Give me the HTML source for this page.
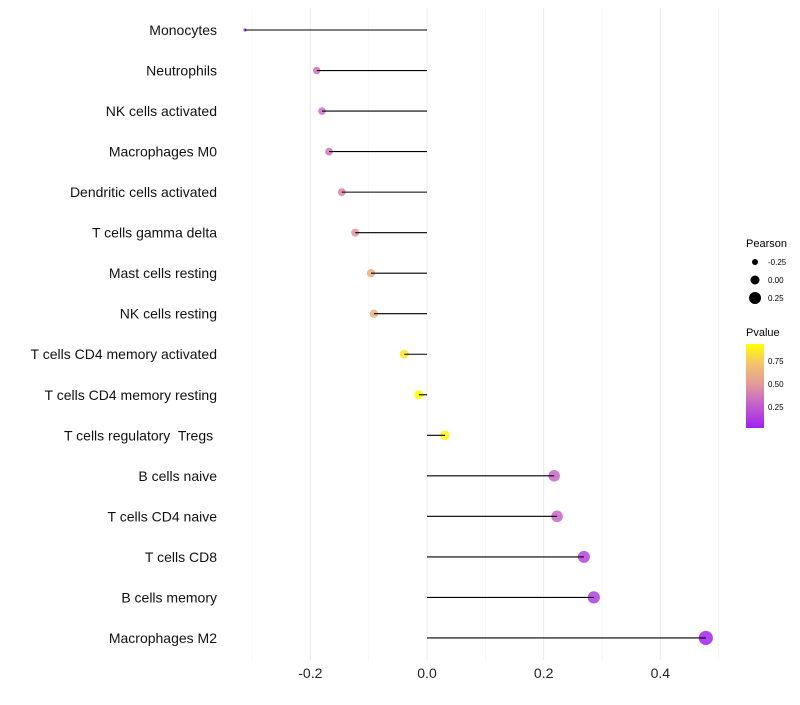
<!DOCTYPE html>
<html><head><meta charset="utf-8"><style>
body{margin:0;background:#fff;font-family:"Liberation Sans",sans-serif}
text{white-space:pre}
</style></head><body>
<svg id="chart" width="800" height="700" xmlns="http://www.w3.org/2000/svg">
<defs><linearGradient id="pg" x1="0" y1="1" x2="0" y2="0">
<stop offset="0" stop-color="#a020f0"/><stop offset="0.3" stop-color="#c866c8"/><stop offset="0.52" stop-color="#e39a9a"/><stop offset="0.75" stop-color="#f2c070"/><stop offset="1" stop-color="#ffff00"/></linearGradient></defs>
<g id="grid"></g><g id="marks"></g><g id="labels"></g>
<g font-size="10" fill="#000">
<text x="746" y="247" font-size="11">Pearson</text>
<circle cx="755" cy="262" r="3" fill="#000"/><text x="768" y="265" font-size="8">-0.25</text>
<circle cx="755" cy="280" r="4.5" fill="#000"/><text x="768" y="283" font-size="8">0.00</text>
<circle cx="755" cy="298" r="6" fill="#000"/><text x="768" y="301" font-size="8">0.25</text>
<text x="746" y="336" font-size="11">Pvalue</text>
<rect x="746" y="344" width="18" height="84" fill="url(#pg)"/>
<text x="768" y="364" font-size="8">0.75</text>
<text x="768" y="387" font-size="8">0.50</text>
<text x="768" y="410" font-size="8">0.25</text>
</g>
</svg>
<script>
const cells=["Monocytes","Neutrophils","NK cells activated","Macrophages M0","Dendritic cells activated","T cells gamma delta","Mast cells resting","NK cells resting","T cells CD4 memory activated","T cells CD4 memory resting","T cells regulatory  Tregs ","B cells naive","T cells CD4 naive","T cells CD8","B cells memory","Macrophages M2"];
const pearson=[-0.312,-0.189,-0.18,-0.168,-0.146,-0.123,-0.096,-0.091,-0.039,-0.014,0.031,0.218,0.223,0.269,0.286,0.478];
const pvalues=[0.03,0.3,0.3,0.32,0.4,0.48,0.6,0.62,0.85,0.93,0.9,0.27,0.27,0.15,0.12,0.03];
const ticks=[-0.2,0,0.2,0.4];
const tickLabels=["-0.2","0.0","0.2","0.4"];
const minor=[-0.3,-0.1,0.1,0.3,0.5];
const NS="http://www.w3.org/2000/svg";
const X=v=>427+v*583.3;
const Y=i=>30+i*40.53;
const R=v=>v<-0.28?1.6:4.7+5*v;
const stops=[[0.02,[160,32,240]],[0.3,[205,110,195]],[0.5,[227,154,150]],[0.7,[242,192,112]],[0.935,[255,255,0]]];
function col(p){p=Math.max(0.02,Math.min(0.935,p));for(let i=1;i<stops.length;i++){if(p<=stops[i][0]){const a=stops[i-1],b=stops[i],t=(p-a[0])/(b[0]-a[0]);return "rgb("+a[1].map((c,k)=>Math.round(c+(b[1][k]-c)*t)).join(",")+")";}}return "rgb(255,255,0)";}
function mk(t,a,p){const e=document.createElementNS(NS,t);for(const k in a)e.setAttribute(k,a[k]);p.appendChild(e);return e;}
const g=document.getElementById("grid"),m=document.getElementById("marks"),lb=document.getElementById("labels");
minor.forEach(v=>{const l=mk("line",{x1:X(v),x2:X(v),y1:8,y2:660,stroke:"#f3f3f3","stroke-width":0.7},g);

});
ticks.forEach((v,i)=>{const l=mk("line",{x1:X(v),x2:X(v),y1:8,y2:660,stroke:"#ebebeb","stroke-width":1},g);


const t=mk("text",{x:X(v),y:678,"text-anchor":"middle","font-size":14,fill:"#222"},lb);t.textContent=tickLabels[i];

});
cells.forEach((c,i)=>{const y=Y(i),v=pearson[i];
const ci=mk("circle",{cx:X(v),cy:y,r:R(v),fill:col(pvalues[i]),"fill-opacity":0.85},m);


const l=mk("line",{x1:X(v),x2:X(0),y1:y,y2:y,stroke:"#000","stroke-width":1.1},m);


const t=mk("text",{x:217,y:y+5,"text-anchor":"end","font-size":14,fill:"#111"},lb);t.textContent=c;

});
</script>
</body></html>
